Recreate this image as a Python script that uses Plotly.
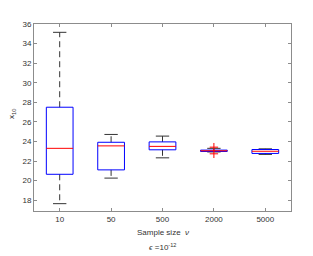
import plotly.graph_objects as go

categories = ["10", "50", "500", "2000", "5000"]
q1 = [20.65, 21.1, 23.15, 22.98, 22.78]
median = [23.3, 23.55, 23.5, 23.05, 23.0]
q3 = [27.5, 23.92, 23.96, 23.12, 23.18]
lower_whisker = [17.65, 20.26, 22.33, 22.93, 22.68]
upper_whisker = [35.15, 24.72, 24.55, 23.3, 23.25]
outlier_x = ["2000", "2000"]
outlier_y = [23.42, 22.74]

yticks = [18, 20, 22, 24, 26, 28, 30, 32, 34, 36]

BOX_HALF = 0.26
CAP_HALF = 0.13
font = dict(family="Liberation Sans, Arial, sans-serif", size=8, color="#333333")

fig = go.Figure()
pos = list(range(1, len(categories) + 1))

# whiskers (dashed)
wx, wy = [], []
for i, p in enumerate(pos):
    wx += [p, p, None, p, p, None]
    wy += [q3[i], upper_whisker[i], None, q1[i], lower_whisker[i], None]
fig.add_trace(go.Scatter(x=wx, y=wy, mode="lines",
                         line=dict(color="#333333", width=1, dash="6px,4px"),
                         hoverinfo="skip", showlegend=False))
# caps
cx, cy = [], []
for i, p in enumerate(pos):
    cx += [p - CAP_HALF, p + CAP_HALF, None, p - CAP_HALF, p + CAP_HALF, None]
    cy += [upper_whisker[i], upper_whisker[i], None, lower_whisker[i], lower_whisker[i], None]
fig.add_trace(go.Scatter(x=cx, y=cy, mode="lines", line=dict(color="#333333", width=1),
                         hoverinfo="skip", showlegend=False))
# boxes
bx, by = [], []
for i, p in enumerate(pos):
    bx += [p - BOX_HALF, p + BOX_HALF, p + BOX_HALF, p - BOX_HALF, p - BOX_HALF, None]
    by += [q1[i], q1[i], q3[i], q3[i], q1[i], None]
fig.add_trace(go.Scatter(x=bx, y=by, mode="lines", line=dict(color="#0000ff", width=1),
                         hoverinfo="skip", showlegend=False))
# medians
mx, my = [], []
for i, p in enumerate(pos):
    mx += [p - BOX_HALF, p + BOX_HALF, None]
    my += [median[i], median[i], None]
fig.add_trace(go.Scatter(x=mx, y=my, mode="lines", line=dict(color="#ff0000", width=1),
                         hoverinfo="skip", showlegend=False))
# outliers
ox = [pos[categories.index(c)] for c in outlier_x]
fig.add_trace(go.Scatter(x=ox, y=outlier_y, mode="markers",
                         marker=dict(symbol="cross-thin", size=6, color="#ff0000",
                                     line=dict(color="#ff0000", width=1)),
                         hoverinfo="skip", showlegend=False))

axis_common = dict(showline=True, mirror="ticks", linecolor="#8c8c8c", linewidth=1,
                   ticks="inside", ticklen=3, tickcolor="#8c8c8c", showgrid=False,
                   zeroline=False, tickfont=font)

fig.update_layout(
    width=305, height=248,
    margin=dict(l=26, r=22, t=14, b=45),
    paper_bgcolor="white", plot_bgcolor="white",
    font=font,
    xaxis=dict(range=[0.5, 5.5], tickvals=pos, ticktext=categories, **axis_common),
    yaxis=dict(range=[16.9, 36], tickvals=yticks, **axis_common),
    annotations=[
        dict(text="x<sub>10</sub>", xref="paper", yref="paper", x=-0.0856, y=0.519,
             textangle=-90, showarrow=False, font=font, xanchor="center", yanchor="middle"),
        dict(text="Sample size  <i>ν</i>", xref="paper", yref="paper", x=0.5, y=-0.116,
             showarrow=False, font=font, xanchor="center", yanchor="middle"),
        dict(text="<i>ϵ</i> =10<sup>-12</sup>", xref="paper", yref="paper", x=0.5, y=-0.19,
             showarrow=False, font=font, xanchor="center", yanchor="middle"),
    ],
)

fig.write_html("out.html")
